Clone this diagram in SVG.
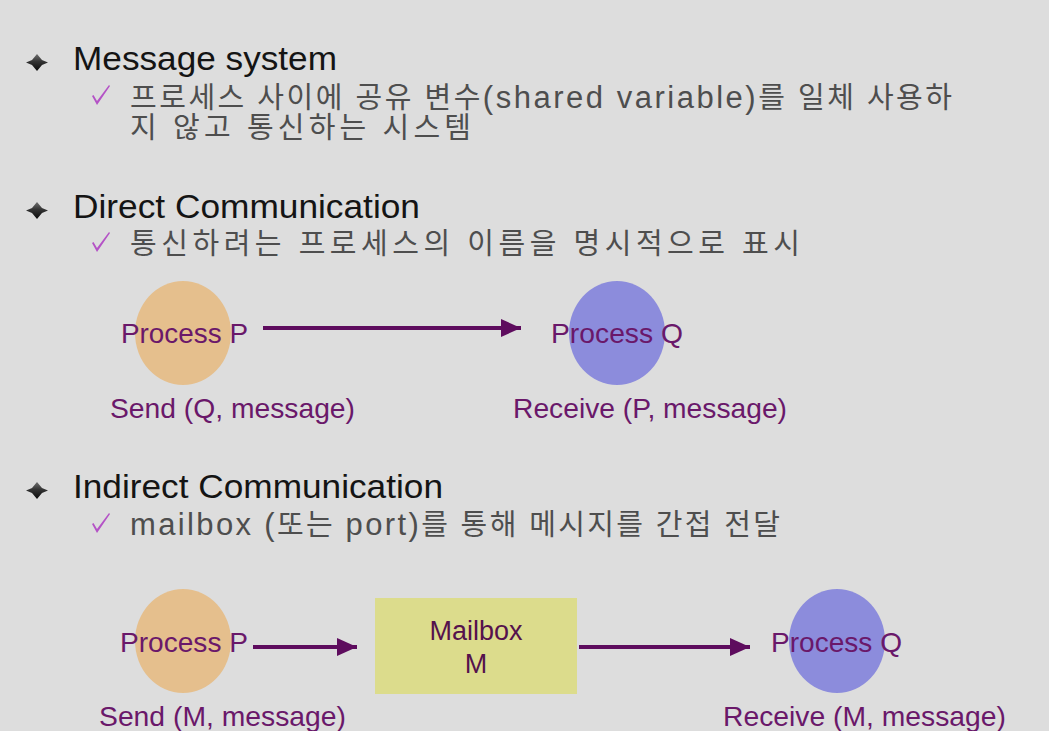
<svg xmlns="http://www.w3.org/2000/svg" width="1049" height="731" viewBox="0 0 1049 731">
<style>
.h{font-family:"Liberation Sans",Arial,sans-serif;font-size:33px;fill:#141414}
.k{font-family:"Liberation Sans","Noto Sans CJK KR",sans-serif;font-size:29px;fill:#4e4e4e}
.k .l{font-size:31px}
.lbl{font-family:"Liberation Sans",Arial,sans-serif;font-size:27.5px;fill:#6a186a}
.mb{font-family:"Liberation Sans",Arial,sans-serif;font-size:27px;fill:#55124c;text-anchor:middle}
.po{fill:#e5bf8d}
.pq{fill:#8c8cdc}
.conn line{stroke:#5e0c5e;stroke-width:4}
.chk{fill:#b452c6}
</style>
<defs>
<marker id="ah" markerUnits="userSpaceOnUse" markerWidth="21" markerHeight="18" refX="20" refY="9" orient="auto">
<path d="M0,0 L20,9 L0,18 Z" fill="#5e0c5e"/>
</marker>
<linearGradient id="bg1" x1="0" y1="0" x2="0" y2="1">
<stop offset="0" stop-color="#707070"/><stop offset="0.45" stop-color="#333"/><stop offset="1" stop-color="#0a0a0a"/>
</linearGradient>
<path id="bul" d="M0,-8 L5,-2 L11,0.5 L5,3 L0,9 L-5,3 L-11,0.5 L-5,-2 Z" fill="url(#bg1)"/>
<path id="chk" d="M0,11 L1.5,10 L5,16 L17,0 L18,1 L5,20 Z"/>
</defs>
<rect width="1049" height="731" fill="#dddddd"/>

<g id="sec-message">
<use href="#bul" x="37" y="62"/>
<text class="h" x="73" y="70" textLength="264" lengthAdjust="spacingAndGlyphs">Message system</text>
<use href="#chk" class="chk" x="92" y="85"/>
<text class="k" x="130" y="108" textLength="822" lengthAdjust="spacing">프로세스 사이에 공유 변수<tspan class="l">(shared variable)</tspan>를 일체 사용하</text>
<text class="k" x="130" y="138" textLength="341" lengthAdjust="spacing">지 않고 통신하는 시스템</text>
</g>

<g id="sec-direct">
<use href="#bul" x="37" y="210"/>
<text class="h" x="73" y="218" textLength="347" lengthAdjust="spacingAndGlyphs">Direct Communication</text>
<use href="#chk" class="chk" x="92" y="232"/>
<text class="k" x="130" y="254" textLength="670" lengthAdjust="spacing">통신하려는 프로세스의 이름을 명시적으로 표시</text>
</g>

<g id="sec-indirect">
<use href="#bul" x="37" y="490"/>
<text class="h" x="73" y="498" textLength="370" lengthAdjust="spacingAndGlyphs">Indirect Communication</text>
<use href="#chk" class="chk" x="92" y="513"/>
<text class="k" x="130" y="535" textLength="650" lengthAdjust="spacing"><tspan class="l">mailbox (</tspan>또는 <tspan class="l">port)</tspan>를 통해 메시지를 간접 전달</text>
</g>

<g id="node-p1">
<ellipse class="po" cx="183" cy="333" rx="48" ry="52"/>
<text class="lbl" x="121" y="343" textLength="127" lengthAdjust="spacingAndGlyphs">Process P</text>
<text class="lbl" x="110" y="418" textLength="245" lengthAdjust="spacingAndGlyphs">Send (Q, message)</text>
</g>
<g id="node-q1">
<ellipse class="pq" cx="617" cy="333" rx="48" ry="52"/>
<text class="lbl" x="551" y="343" textLength="132" lengthAdjust="spacingAndGlyphs">Process Q</text>
<text class="lbl" x="513" y="418" textLength="274" lengthAdjust="spacingAndGlyphs">Receive (P, message)</text>
</g>

<g id="node-p2">
<ellipse class="po" cx="183" cy="641" rx="48" ry="52"/>
<text class="lbl" x="120" y="652" textLength="128" lengthAdjust="spacingAndGlyphs">Process P</text>
<text class="lbl" x="99" y="726" textLength="247" lengthAdjust="spacingAndGlyphs">Send (M, message)</text>
</g>
<g id="node-mailbox">
<rect x="375" y="598" width="202" height="96" fill="#dcdc8c"/>
<text class="mb" x="476" y="640">Mailbox</text>
<text class="mb" x="476" y="673">M</text>
</g>
<g id="node-q2">
<ellipse class="pq" cx="837" cy="641" rx="48" ry="52"/>
<text class="lbl" x="771" y="652" textLength="131" lengthAdjust="spacingAndGlyphs">Process Q</text>
<text class="lbl" x="723" y="726" textLength="283" lengthAdjust="spacingAndGlyphs">Receive (M, message)</text>
</g>

<g id="connectors" class="conn">
<line x1="263" y1="328" x2="521" y2="328" marker-end="url(#ah)"/>
<line x1="253" y1="647" x2="357" y2="647" marker-end="url(#ah)"/>
<line x1="579" y1="647" x2="750" y2="647" marker-end="url(#ah)"/>
</g>
</svg>
